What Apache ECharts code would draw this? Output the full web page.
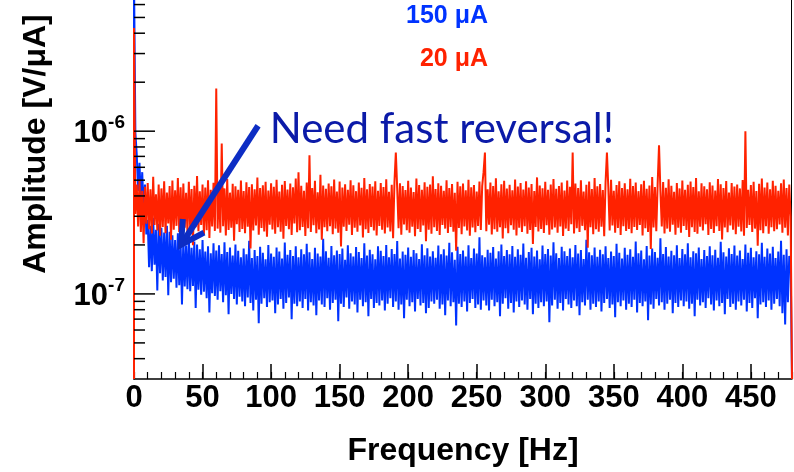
<!DOCTYPE html>
<html>
<head>
<meta charset="utf-8">
<script src="https://cdn.jsdelivr.net/npm/echarts@6/dist/echarts.min.js"></script>
<style>
html,body{margin:0;padding:0;background:#fff;}
#c{width:794px;height:472px;}
</style>
</head>
<body>
<div id="c"></div>
<script>
// ---- data (amplitude values in units of 1e-9 V/uA, one value per 1 Hz bin) ----
const UNIT = 1e-9;
const AXIS_MIN = 3e-8;
const AXIS_MAX = 6.4e-6;
const FREQ_MAX = 480;
const xTickInterval = 50;
const xMinorInterval = 10;
const yMajorTicks = [1e-7, 1e-6];
const yMinorTicks = [4e-8,5e-8,6e-8,7e-8,8e-8,9e-8,2e-7,3e-7,4e-7,5e-7,6e-7,7e-7,8e-7,9e-7,2e-6,3e-6,4e-6,5e-6,6e-6];
const legendLabels = ['150 \u03bcA', '20 \u03bcA'];
const annotationText = 'Need fast reversal!';
const arrowFrom = [90.5, 1.08e-6];
const arrowTo = [34.3, 2.0e-7];
const annotationAnchor = [99, 1.02e-6];

const blue150 = [
9000,980,720,430,640,380,560,330,470,232,285,146,262,138,294,151,248,105,270,134,
255,121,238,127,262,98,241,118,229,124,214,109,236,113,205,86,219,111,198,107,
225,104,192,112,210,82,201,106,188,99,214,103,182,94,196,77,178,101,205,97,
185,92,199,104,176,89,208,98,181,75,193,100,172,93,201,86,184,96,168,90,
190,84,175,95,212,88,166,79,186,92,171,66,195,87,179,94,163,83,200,89,
177,91,169,76,193,86,182,93,165,81,207,88,174,95,186,70,171,87,196,84,
168,90,188,82,175,93,203,79,180,89,164,85,192,74,177,91,170,86,218,83,
183,94,167,80,197,88,173,92,185,68,176,87,190,83,162,95,199,81,178,90,
170,86,194,77,181,92,166,84,205,89,172,73,187,93,175,82,163,88,196,85,
184,91,171,79,200,87,168,94,189,83,176,90,211,80,165,86,182,71,174,92,
193,84,169,89,186,78,178,93,164,85,202,88,173,76,191,82,170,90,183,87,
167,92,198,81,175,86,188,74,172,91,206,84,180,89,162,64,195,87,176,83,
185,90,170,78,199,88,166,93,190,82,177,86,223,80,173,91,168,85,187,79,
179,92,194,84,165,89,183,73,201,87,171,94,186,81,175,88,197,77,169,90,
188,83,174,91,204,86,167,80,181,93,192,75,170,87,185,82,163,89,198,84,
176,90,189,67,172,85,208,92,178,81,166,88,195,79,183,93,171,86,190,82,
168,91,200,84,177,74,186,89,164,85,215,92,180,80,173,87,193,83,169,90,
187,78,175,88,196,93,166,82,182,86,171,72,203,89,179,84,165,91,192,80,
174,87,188,83,169,92,210,77,178,88,185,84,163,90,197,69,172,86,190,81,
181,93,167,85,220,89,176,80,194,87,170,92,184,76,173,88,199,83,166,91,
189,84,175,90,205,81,168,87,183,73,178,92,193,85,164,89,186,82,171,94,
196,86,173,79,187,91,167,84,209,88,180,75,170,93,191,83,176,87,198,80,
172,90,185,85,164,92,201,78,179,88,192,82,168,94,183,71,175,86,206,89,
169,83,190,91,177,80,195,87,166,93,182,84,212,76,174,65,188,89,171,160
];

const red20 = [
4300,310,470,260,505,240,430,205,455,270,480,250,440,235,525,265,410,245,470,228,
445,258,492,236,420,271,460,215,498,248,433,262,515,240,452,226,476,255,418,238,
488,249,441,199,462,257,530,243,427,265,470,232,451,246,500,221,437,260,482,244,
1830,252,466,238,840,261,445,229,508,247,419,255,475,212,458,268,436,240,497,251,
429,236,486,259,454,190,471,245,440,263,519,231,447,254,465,242,489,225,432,266,
478,249,456,234,503,257,425,241,469,218,494,262,438,250,476,230,452,271,511,239,
560,246,462,258,431,227,484,253,710,240,448,264,495,236,421,249,539,215,463,257,
442,243,477,261,458,233,505,252,426,238,490,196,451,259,472,244,436,266,499,230,
465,255,428,241,483,263,449,222,516,250,440,237,474,258,457,245,493,229,431,262,
481,248,453,235,507,256,424,242,468,220,487,740,445,253,479,231,460,267,435,246,
496,238,450,259,423,226,512,251,466,240,437,263,485,211,455,248,470,234,528,257,
441,244,478,230,462,265,430,252,500,237,447,258,473,241,419,184,489,254,458,233,
476,260,434,245,502,228,452,256,467,239,425,262,491,247,459,560,740,243,439,266,
483,232,461,250,514,241,427,257,472,219,496,253,444,236,468,264,433,248,505,229,
457,255,480,240,438,261,493,234,451,247,474,203,429,258,520,242,463,251,446,237,
488,264,436,231,470,249,509,256,442,238,461,260,484,227,432,252,497,244,455,268,
740,235,477,253,448,240,499,262,426,246,468,192,490,257,441,233,516,250,458,241,
474,259,435,226,485,740,452,245,503,263,430,238,466,254,492,230,447,261,478,244,
439,251,510,236,460,258,483,247,428,265,471,229,495,253,443,240,464,189,522,256,
454,243,476,820,433,260,487,235,449,252,506,241,462,266,424,231,480,255,445,238,
498,262,437,247,469,224,491,257,453,240,515,234,427,259,478,245,459,268,440,230,
486,251,463,237,432,261,508,244,472,216,447,256,494,239,420,263,481,248,457,233,
470,259,445,242,501,228,1000,254,436,265,466,240,489,252,429,198,475,246,512,236,
451,261,483,234,440,257,496,243,462,250,431,267,478,238,505,255,448,229,470,300
];

// histogram outline: rises from the axis floor at 0 Hz and drops back at the end
function toSeries(vals) {
  const d = [[0, AXIS_MIN]];
  vals.forEach((v, i) => d.push([i, v * UNIT]));
  d.push([FREQ_MAX, AXIS_MIN]);
  return d;
}

const BLUE = '#0033ff';
const RED = '#ff2200';
const FONT = '"Liberation Sans", Arial, sans-serif';

const chart = echarts.init(document.getElementById('c'), null, {renderer: 'canvas'});
chart.setOption({
  animation: false,
  backgroundColor: '#fff',
  grid: {left: 134, right: 2, top: 0, bottom: 90, containLabel: false},
  xAxis: [{
    type: 'value', min: 0, max: FREQ_MAX, interval: xTickInterval,
    position: 'bottom',
    name: 'Frequency [Hz]', nameLocation: 'middle', nameGap: 56,
    nameTextStyle: {fontFamily: FONT, fontWeight: 'bold', fontSize: 32, color: '#000'},
    axisLine: {show: true, lineStyle: {color: '#000', width: 1.5}},
    axisTick: {show: true, inside: true, length: 15, lineStyle: {color: '#000', width: 1.5}},
    axisLabel: {show: true, margin: 4, showMaxLabel: false, fontFamily: FONT, fontWeight: 'bold', fontSize: 31, color: '#000'},
    splitLine: {show: false}
  }, {
    type: 'value', min: 0, max: FREQ_MAX, interval: xMinorInterval,
    position: 'bottom',
    axisLine: {show: false},
    axisTick: {show: true, inside: true, length: 7, lineStyle: {color: '#000', width: 1.2}},
    axisLabel: {show: false},
    splitLine: {show: false}
  }],
  yAxis: [{
    type: 'log', logBase: 10, min: AXIS_MIN, max: AXIS_MAX,
    axisLine: {show: true, lineStyle: {color: '#000', width: 1.5}},
    axisTick: {show: false},
    splitLine: {show: false},
    minorSplitLine: {show: false},
    axisLabel: {
      show: true, margin: 9, showMinLabel: false, showMaxLabel: false,
      formatter: function (v) {
        const e = Math.log10(v);
        if (Math.abs(e - Math.round(e)) > 0.01) return '';
        return '{b|10}{s|' + Math.round(e) + '}';
      },
      rich: {
        b: {fontFamily: FONT, fontWeight: 'bold', fontSize: 31, color: '#000', lineHeight: 36, verticalAlign: 'bottom'},
        s: {fontFamily: FONT, fontWeight: 'bold', fontSize: 19, color: '#000', lineHeight: 36, verticalAlign: 'top'}
      }
    }
  }],
  series: [{
    name: legendLabels[0], type: 'line', data: toSeries(blue150),
    symbol: 'none', showSymbol: false,
    lineStyle: {color: BLUE, width: 2}, itemStyle: {color: BLUE}, z: 2
  }, {
    name: legendLabels[1], type: 'line', data: toSeries(red20),
    symbol: 'none', showSymbol: false,
    lineStyle: {color: RED, width: 2}, itemStyle: {color: RED}, z: 3
  }]
});

// ---- ticks on the log axis, right frame, labels and annotation (positions from the chart's scales) ----
function px(x, y) { return chart.convertToPixel({gridIndex: 0}, [x, y]); }
const g = [];
const x0 = px(0, AXIS_MIN)[0];
yMajorTicks.forEach(v => {
  const p = px(0, v);
  g.push({type: 'line', z: 5, shape: {x1: x0, y1: p[1], x2: x0 + 21, y2: p[1]}, style: {stroke: '#000', lineWidth: 1.5}});
});
yMinorTicks.forEach(v => {
  const p = px(0, v);
  g.push({type: 'line', z: 5, shape: {x1: x0, y1: p[1], x2: x0 + 11, y2: p[1]}, style: {stroke: '#000', lineWidth: 1.5}});
});
const rb = px(FREQ_MAX, AXIS_MIN), rt = px(FREQ_MAX, AXIS_MAX);
g.push({type: 'line', z: 1, shape: {x1: rb[0] - 0.5, y1: rb[1], x2: rt[0] - 0.5, y2: rt[1]}, style: {stroke: '#000', lineWidth: 1}});

// y-axis title
g.push({type: 'text', x: 36, y: 144, rotation: Math.PI / 2, z: 10,
  style: {text: 'Amplitude [V/\u03bcA]', fontFamily: FONT, fontWeight: 'bold', fontSize: 32, fill: '#000', textAlign: 'center', textVerticalAlign: 'middle'}});

// legend texts
g.push({type: 'text', x: 488, y: 16, z: 10,
  style: {text: legendLabels[0], fontFamily: FONT, fontWeight: 'bold', fontSize: 25, fill: BLUE, textAlign: 'right', textVerticalAlign: 'middle'}});
g.push({type: 'text', x: 488, y: 59, z: 10,
  style: {text: legendLabels[1], fontFamily: FONT, fontWeight: 'bold', fontSize: 25, fill: RED, textAlign: 'right', textVerticalAlign: 'middle'}});

// annotation arrow
const tail = px(arrowFrom[0], arrowFrom[1]);
const tip = px(arrowTo[0], arrowTo[1]);
const dx = tail[0] - tip[0], dy = tail[1] - tip[1];
const len = Math.sqrt(dx * dx + dy * dy);
const ux = dx / len, uy = dy / len;
const th = 29 * Math.PI / 180, wl = 26;
const w1 = [tip[0] + wl * (ux * Math.cos(th) - uy * Math.sin(th)), tip[1] + wl * (ux * Math.sin(th) + uy * Math.cos(th))];
const w2 = [tip[0] + wl * (ux * Math.cos(-th) - uy * Math.sin(-th)), tip[1] + wl * (ux * Math.sin(-th) + uy * Math.cos(-th))];
const ARROW = '#0d2dc4';
g.push({type: 'line', z: 10, shape: {x1: tail[0], y1: tail[1], x2: tip[0] + ux * 2, y2: tip[1] + uy * 2}, style: {stroke: ARROW, lineWidth: 6, lineCap: 'butt'}});
g.push({type: 'polyline', z: 10, shape: {points: [w1, tip, w2]}, style: {stroke: ARROW, lineWidth: 6, lineJoin: 'miter', fill: null}});

const an = px(annotationAnchor[0], annotationAnchor[1]);
g.push({type: 'text', x: an[0], y: an[1], z: 10,
  style: {text: annotationText, fontFamily: 'Lato, "Open Sans", sans-serif', fontSize: 42, fill: '#0b1aa8', textAlign: 'left', textVerticalAlign: 'middle'}});

chart.setOption({graphic: g});
</script>
</body>
</html>
